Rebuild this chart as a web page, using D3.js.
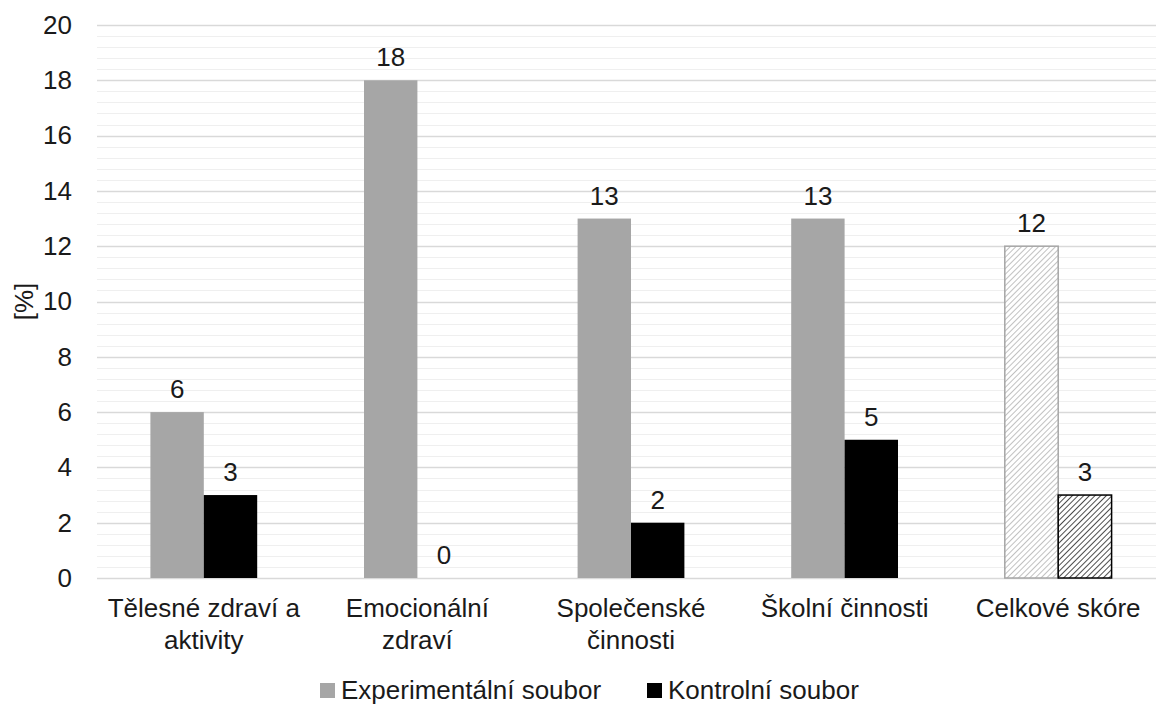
<!DOCTYPE html>
<html>
<head>
<meta charset="utf-8">
<script src="https://cdn.jsdelivr.net/npm/d3@7"></script>
<style>
  body { margin: 0; background: #fff; }
  text { font-family: "Liberation Sans", Arial, sans-serif; fill: #1a1a1a; }
</style>
</head>
<body>
<svg id="chart" width="1156" height="704"></svg>
<script>
var categories = [["Tělesné zdraví a", "aktivity"], ["Emocionální", "zdraví"], ["Společenské", "činnosti"], ["Školní činnosti"], ["Celkové skóre"]];
var experimental = [6, 18, 13, 13, 12];
var control = [3, 0, 2, 5, 3];
var seriesNames = ["Experimentální soubor", "Kontrolní soubor"];
var yTicks = [0, 2, 4, 6, 8, 10, 12, 14, 16, 18, 20];

var svg = d3.select("#chart");
var plotLeft = 97, plotRight = 1165, plotTop = 25, plotBottom = 578;
var fs = "26px";

var x = d3.scaleBand()
  .domain(d3.range(categories.length))
  .range([plotLeft, plotRight])
  .padding(0);

var y = d3.scaleLinear()
  .domain([0, 20])
  .range([plotBottom, plotTop]);

// patterns for last group
var defs = svg.append("defs");
function hatch(id, color) {
  var p = defs.append("pattern")
    .attr("id", id)
    .attr("patternUnits", "userSpaceOnUse")
    .attr("width", 4).attr("height", 4)
    .attr("patternTransform", "rotate(45)");
  p.append("rect").attr("width", 4).attr("height", 4).attr("fill", "#fff");
  p.append("line").attr("x1", 0).attr("y1", 0).attr("x2", 0).attr("y2", 4)
    .attr("stroke", color).attr("stroke-width", 1.4);
}
hatch("hatchGray", "#a6a6a6");
hatch("hatchBlack", "#000");

// minor gridlines
var minor = d3.range(0, 20.01, 0.4).filter(function(v) { return Math.abs(v / 2 - Math.round(v / 2)) > 0.01; });
svg.append("g").selectAll("line").data(minor).enter()
  .append("line")
  .attr("x1", plotLeft).attr("x2", 1156)
  .attr("y1", function(d) { return Math.round(y(d)) + 0.5; })
  .attr("y2", function(d) { return Math.round(y(d)) + 0.5; })
  .attr("stroke", "#efefef").attr("stroke-width", 1);

// major gridlines
svg.append("g").selectAll("line").data(yTicks).enter()
  .append("line")
  .attr("x1", plotLeft).attr("x2", 1156)
  .attr("y1", function(d) { return Math.round(y(d)) + 0.5; })
  .attr("y2", function(d) { return Math.round(y(d)) + 0.5; })
  .attr("stroke", "#d9d9d9").attr("stroke-width", 1.3);

// y axis labels
var yAxis = d3.axisLeft(y).tickValues(yTicks).tickSize(0).tickPadding(0);
var ya = svg.append("g").attr("transform", "translate(72,0)").call(yAxis);
ya.select(".domain").remove();
ya.selectAll("text").style("font-size", fs).attr("fill", "#1a1a1a")
  .style("font-family", "'Liberation Sans', Arial, sans-serif");

svg.append("text")
  .attr("transform", "translate(33," + ((plotTop + plotBottom) / 2) + ") rotate(-90)")
  .attr("text-anchor", "middle")
  .style("font-size", fs)
  .text("[%]");

var bw = x.bandwidth() * 0.25;

var groups = svg.append("g").selectAll("g").data(categories).enter()
  .append("g")
  .attr("transform", function(d, i) { return "translate(" + (x(i) + x.bandwidth() / 2) + ",0)"; });

// experimental bars
groups.append("rect")
  .attr("x", -bw)
  .attr("y", function(d, i) { return y(experimental[i]); })
  .attr("width", bw)
  .attr("height", function(d, i) { return y(0) - y(experimental[i]); })
  .attr("fill", function(d, i) { return i == 4 ? "url(#hatchGray)" : "#a6a6a6"; })
  .attr("stroke", function(d, i) { return i == 4 ? "#a6a6a6" : "none"; })
  .attr("stroke-width", 1.5);

// control bars
groups.append("rect")
  .attr("x", 0)
  .attr("y", function(d, i) { return y(control[i]); })
  .attr("width", bw)
  .attr("height", function(d, i) { return y(0) - y(control[i]); })
  .attr("fill", function(d, i) { return i == 4 ? "url(#hatchBlack)" : "#000"; })
  .attr("stroke", function(d, i) { return i == 4 ? "#000" : "none"; })
  .attr("stroke-width", 1.5);

// value labels
groups.append("text")
  .attr("x", -bw / 2)
  .attr("y", function(d, i) { return y(experimental[i]) - 14; })
  .attr("text-anchor", "middle")
  .style("font-size", fs)
  .text(function(d, i) { return experimental[i]; });

groups.append("text")
  .attr("x", bw / 2)
  .attr("y", function(d, i) { return y(control[i]) - 14; })
  .attr("text-anchor", "middle")
  .style("font-size", fs)
  .text(function(d, i) { return control[i]; });

// category labels
groups.append("text")
  .attr("text-anchor", "middle")
  .style("font-size", fs)
  .selectAll("tspan").data(function(d) { return d; }).enter()
  .append("tspan")
  .attr("x", 0)
  .attr("y", function(d, j) { return 617 + j * 32; })
  .text(function(d) { return d; });

// legend
var legendX = [320, 647];
var legend = svg.append("g").selectAll("g").data(seriesNames).enter()
  .append("g")
  .attr("transform", function(d, i) { return "translate(" + legendX[i] + ",683)"; });
legend.append("rect")
  .attr("width", 15).attr("height", 15)
  .attr("fill", function(d, i) { return i == 0 ? "#a6a6a6" : "#000"; });
legend.append("text")
  .attr("x", 21).attr("y", 16)
  .style("font-size", fs)
  .text(function(d) { return d; });
</script>
</body>
</html>
